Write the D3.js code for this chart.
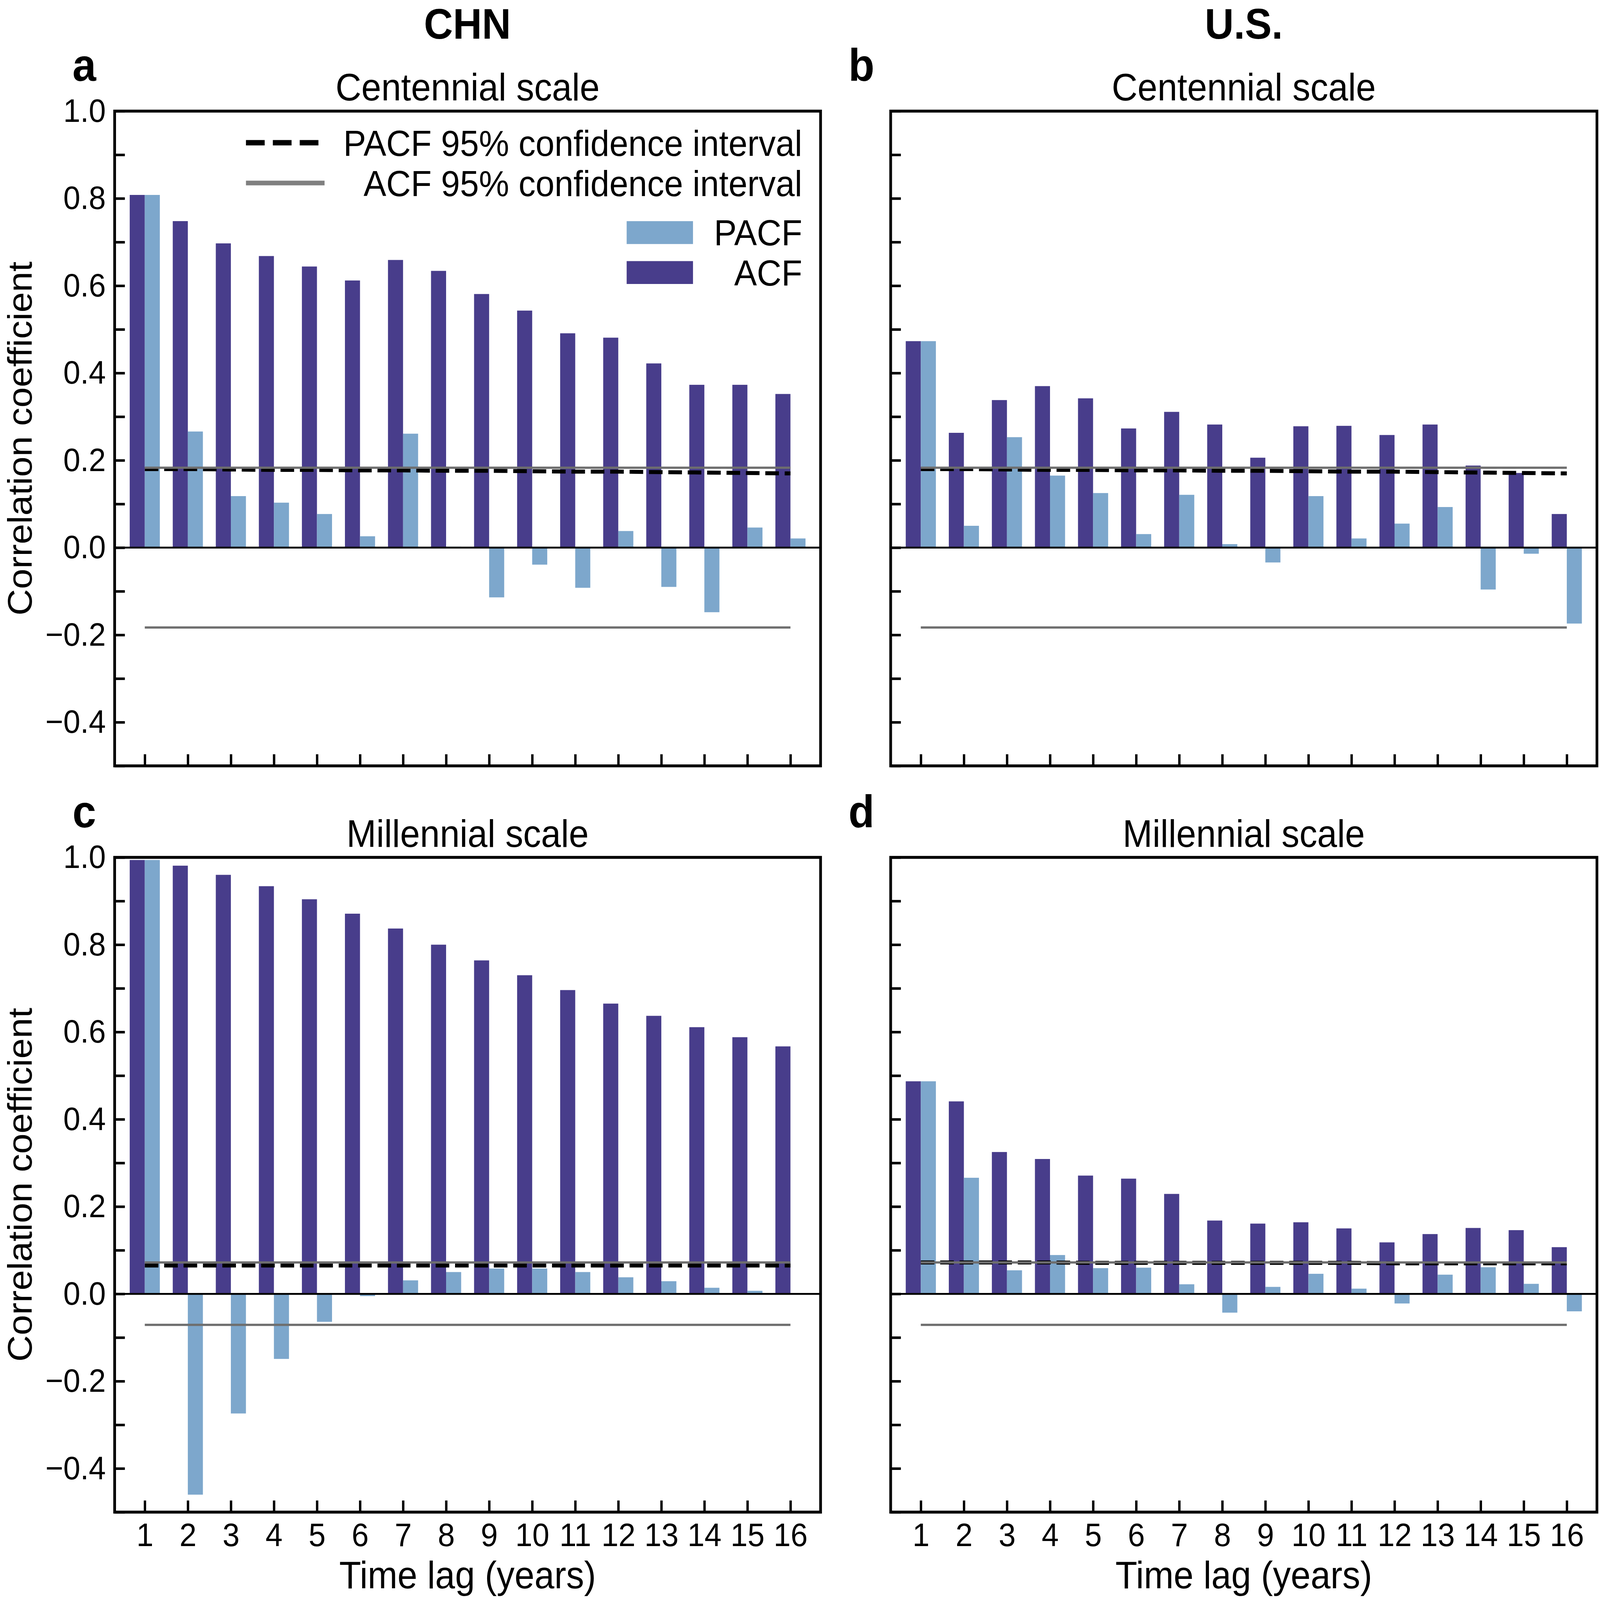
<!DOCTYPE html>
<html>
<head>
<meta charset="utf-8">
<script src="https://cdn.jsdelivr.net/npm/d3@7"></script>
<style>
  html, body { margin: 0; padding: 0; background: #fff; width: 100%; height: 100%; overflow: hidden; }
  .vis-holder { width: 100vw; height: 100vh; }
  svg { display: block; width: 100vw; height: 100vh; }
  text { font-family: "Liberation Sans", Arial, Helvetica, sans-serif; }
</style>
</head>
<body>
<div class="vis-holder"></div>
<script>
const width = 4703;
const height = 4406;

// lags and tick values
const lags = [1, 2, 3, 4, 5, 6, 7, 8, 9, 10, 11, 12, 13, 14, 15, 16];
const yTickValues = [-0.5, -0.4, -0.3, -0.2, -0.1, 0.0, 0.1, 0.2, 0.3, 0.4, 0.5, 0.6, 0.7, 0.8, 0.9, 1.0];
const yTickLabels = [-0.4, -0.2, 0.0, 0.2, 0.4, 0.6, 0.8, 1.0];

// CHN centennial
const acfChnCent  = [0.808, 0.748, 0.697, 0.668, 0.644, 0.612, 0.659, 0.634, 0.581, 0.543, 0.491, 0.481, 0.422, 0.373, 0.373, 0.352];
const pacfChnCent = [0.808, 0.266, 0.118, 0.103, 0.077, 0.026, 0.261, 0.002, -0.114, -0.039, -0.092, 0.038, -0.090, -0.148, 0.046, 0.021];
const pacfCiChnCent = [0.180, 0.180, 0.179, 0.178, 0.178, 0.177, 0.177, 0.176, 0.176, 0.175, 0.174, 0.174, 0.173, 0.172, 0.171, 0.170];
const acfCiChnCent = [0.183, -0.183];

// U.S. centennial
const acfUsCent  = [0.473, 0.263, 0.338, 0.370, 0.342, 0.273, 0.311, 0.282, 0.206, 0.278, 0.279, 0.258, 0.282, 0.188, 0.171, 0.077];
const pacfUsCent = [0.473, 0.050, 0.253, 0.165, 0.125, 0.031, 0.121, 0.008, -0.034, 0.118, 0.021, 0.055, 0.093, -0.096, -0.014, -0.174];
const pacfCiUsCent = [0.180, 0.180, 0.179, 0.178, 0.178, 0.177, 0.177, 0.176, 0.176, 0.175, 0.174, 0.174, 0.173, 0.172, 0.171, 0.170];
const acfCiUsCent = [0.183, -0.183];

// CHN millennial
const acfChnMill  = [0.994, 0.981, 0.960, 0.934, 0.904, 0.871, 0.837, 0.800, 0.764, 0.730, 0.696, 0.665, 0.637, 0.611, 0.588, 0.567];
const pacfChnMill = [0.994, -0.460, -0.274, -0.149, -0.064, -0.005, 0.031, 0.050, 0.058, 0.058, 0.050, 0.038, 0.029, 0.014, 0.007, 0.001];
const pacfCiChnMill = [0.065, 0.065, 0.065, 0.065, 0.065, 0.065, 0.065, 0.065, 0.065, 0.065, 0.065, 0.065, 0.065, 0.065, 0.065, 0.065];
const acfCiChnMill = [0.072, -0.071];

// U.S. millennial
const acfUsMill  = [0.487, 0.441, 0.325, 0.309, 0.271, 0.264, 0.229, 0.168, 0.161, 0.164, 0.150, 0.118, 0.137, 0.151, 0.146, 0.107];
const pacfUsMill = [0.487, 0.266, 0.054, 0.089, 0.059, 0.060, 0.022, -0.043, 0.016, 0.046, 0.012, -0.022, 0.044, 0.061, 0.023, -0.040];
const pacfCiUsMill = [0.072, 0.072, 0.072, 0.072, 0.071, 0.071, 0.071, 0.071, 0.071, 0.071, 0.071, 0.070, 0.070, 0.070, 0.070, 0.070];
const acfCiUsMill = [0.072, -0.071];

const acfColor = "#483d8b";
const pacfColor = "#7da7cc";
const ciGray = "#6e6e6e";

const panels = [
    { letter: "a", title: "Centennial scale", acf: acfChnCent, pacf: pacfChnCent, pacfCi: pacfCiChnCent, acfCi: acfCiChnCent,
      x0: 337, x1: 2412, y0: 306, y1: 2109, yLabels: true, xLabels: false, legend: true },
    { letter: "b", title: "Centennial scale", acf: acfUsCent, pacf: pacfUsCent, pacfCi: pacfCiUsCent, acfCi: acfCiUsCent,
      x0: 2618, x1: 4694, y0: 306, y1: 2109, yLabels: false, xLabels: false, legend: false },
    { letter: "c", title: "Millennial scale", acf: acfChnMill, pacf: pacfChnMill, pacfCi: pacfCiChnMill, acfCi: acfCiChnMill,
      x0: 337, x1: 2412, y0: 2361, y1: 4164, yLabels: true, xLabels: true, legend: false },
    { letter: "d", title: "Millennial scale", acf: acfUsMill, pacf: pacfUsMill, pacfCi: pacfCiUsMill, acfCi: acfCiUsMill,
      x0: 2618, x1: 4694, y0: 2361, y1: 4164, yLabels: false, xLabels: true, legend: false }
];

// scale the drawing to whatever the window is
const svg = d3.select(".vis-holder").append("svg")
    .attr("viewBox", `0 0 ${width} ${height}`)
    .attr("preserveAspectRatio", "none");

svg.append("rect").attr("width", width).attr("height", height).attr("fill", "#fff");

const barW = 0.35;
const fmt = d3.format(".1f");

// column headers
svg.append("text").attr("x", 1374).attr("y", 106).attr("text-anchor", "middle")
    .attr("font-size", 118).attr("font-weight", "bold").text("CHN");
svg.append("text").attr("x", 3656).attr("y", 106).attr("text-anchor", "middle")
    .attr("font-size", 118).attr("font-weight", "bold").text("U.S.");

panels.forEach(function(p) {
    const x = d3.scaleLinear().domain([0.3, 16.7]).range([p.x0, p.x1]);
    const y = d3.scaleLinear().domain([-0.5, 1.0]).range([p.y1, p.y0]);
    const g = svg.append("g");

    // bars
    g.selectAll(".acf").data(lags).enter().append("rect")
        .attr("x", d => x(d - barW))
        .attr("width", x(barW) - x(0))
        .attr("y", (d, i) => y(Math.max(0, p.acf[i])))
        .attr("height", (d, i) => Math.abs(y(p.acf[i]) - y(0)))
        .attr("fill", acfColor);
    g.selectAll(".pacf").data(lags).enter().append("rect")
        .attr("x", d => x(d))
        .attr("width", x(barW) - x(0))
        .attr("y", (d, i) => y(Math.max(0, p.pacf[i])))
        .attr("height", (d, i) => Math.abs(y(p.pacf[i]) - y(0)))
        .attr("fill", pacfColor);

    // zero line
    g.append("line").attr("x1", p.x0).attr("x2", p.x1)
        .attr("y1", y(0)).attr("y2", y(0))
        .attr("stroke", "#000").attr("stroke-width", 5);

    // PACF confidence (dashed)
    const line = d3.line().x(d => x(d[0])).y(d => y(d[1]));
    g.append("path")
        .attr("d", line(lags.map((l, i) => [l, p.pacfCi[i]])))
        .attr("fill", "none").attr("stroke", "#000")
        .attr("stroke-width", 11).attr("stroke-dasharray", "40,17");

    // ACF confidence (solid gray)
    p.acfCi.forEach(function(v) {
        g.append("line").attr("x1", x(lags[0])).attr("x2", x(lags[lags.length - 1]))
            .attr("y1", y(v)).attr("y2", y(v))
            .attr("stroke", ciGray).attr("stroke-width", 6);
    });

    // axes
    const yAxis = d3.axisLeft(y).tickValues(yTickValues)
        .tickSizeInner(-30).tickSizeOuter(0).tickPadding(26)
        .tickFormat(d => (p.yLabels && yTickLabels.some(v => Math.abs(v - d) < 1e-9)) ? fmt(d) : "");
    const ya = g.append("g").attr("transform", `translate(${p.x0},0)`).call(yAxis);
    const xAxis = d3.axisBottom(x).tickValues(lags)
        .tickSizeInner(-32).tickSizeOuter(0).tickPadding(30)
        .tickFormat(d => p.xLabels ? d : "");
    const xa = g.append("g").attr("transform", `translate(0,${p.y1})`).call(xAxis);
    [ya, xa].forEach(function(a) {
        a.select(".domain").remove();
        a.selectAll(".tick line").attr("stroke", "#000").attr("stroke-width", 7);
        a.selectAll(".tick text").attr("font-size", 90).attr("fill", "#000")
            .style("font-family", '"Liberation Sans", Arial, sans-serif');
    });

    // frame
    g.append("rect").attr("x", p.x0).attr("y", p.y0)
        .attr("width", p.x1 - p.x0).attr("height", p.y1 - p.y0)
        .attr("fill", "none").attr("stroke", "#000").attr("stroke-width", 8);

    // titles
    const cx = (p.x0 + p.x1) / 2;
    g.append("text").attr("x", cx).attr("y", p.y0 - 29).attr("text-anchor", "middle")
        .attr("font-size", 105).text(p.title);
    g.append("text").attr("x", p.x0 - 124).attr("y", p.y0 - 83)
        .attr("font-size", 125).attr("font-weight", "bold").text(p.letter);

    if (p.yLabels) {
        g.append("text")
            .attr("transform", `translate(93,${(p.y0 + p.y1) / 2}) rotate(-90)`)
            .attr("text-anchor", "middle").attr("font-size", 101)
            .text("Correlation coefficient");
    }
    if (p.xLabels) {
        g.append("text").attr("x", cx).attr("y", 4374).attr("text-anchor", "middle")
            .attr("font-size", 105).text("Time lag (years)");
    }

    if (p.legend) {
        const lg = g.append("g");
        const tx = 2358;
        lg.append("line").attr("x1", 723).attr("x2", 954).attr("y1", 393).attr("y2", 393)
            .attr("stroke", "#000").attr("stroke-width", 15).attr("stroke-dasharray", "55,24");
        lg.append("text").attr("x", tx).attr("y", 393).attr("dy", "0.36em")
            .attr("text-anchor", "end").attr("font-size", 100).text("PACF 95% confidence interval");
        lg.append("line").attr("x1", 723).attr("x2", 954).attr("y1", 504).attr("y2", 504)
            .attr("stroke", "#808080").attr("stroke-width", 13);
        lg.append("text").attr("x", tx).attr("y", 504).attr("dy", "0.36em")
            .attr("text-anchor", "end").attr("font-size", 100).text("ACF 95% confidence interval");
        lg.append("rect").attr("x", 1842).attr("y", 609).attr("width", 195).attr("height", 63)
            .attr("fill", pacfColor);
        lg.append("text").attr("x", tx).attr("y", 640).attr("dy", "0.36em")
            .attr("text-anchor", "end").attr("font-size", 100).text("PACF");
        lg.append("rect").attr("x", 1842).attr("y", 719).attr("width", 195).attr("height", 63)
            .attr("fill", acfColor);
        lg.append("text").attr("x", tx).attr("y", 750).attr("dy", "0.36em")
            .attr("text-anchor", "end").attr("font-size", 100).text("ACF");
    }
});
</script>
</body>
</html>
